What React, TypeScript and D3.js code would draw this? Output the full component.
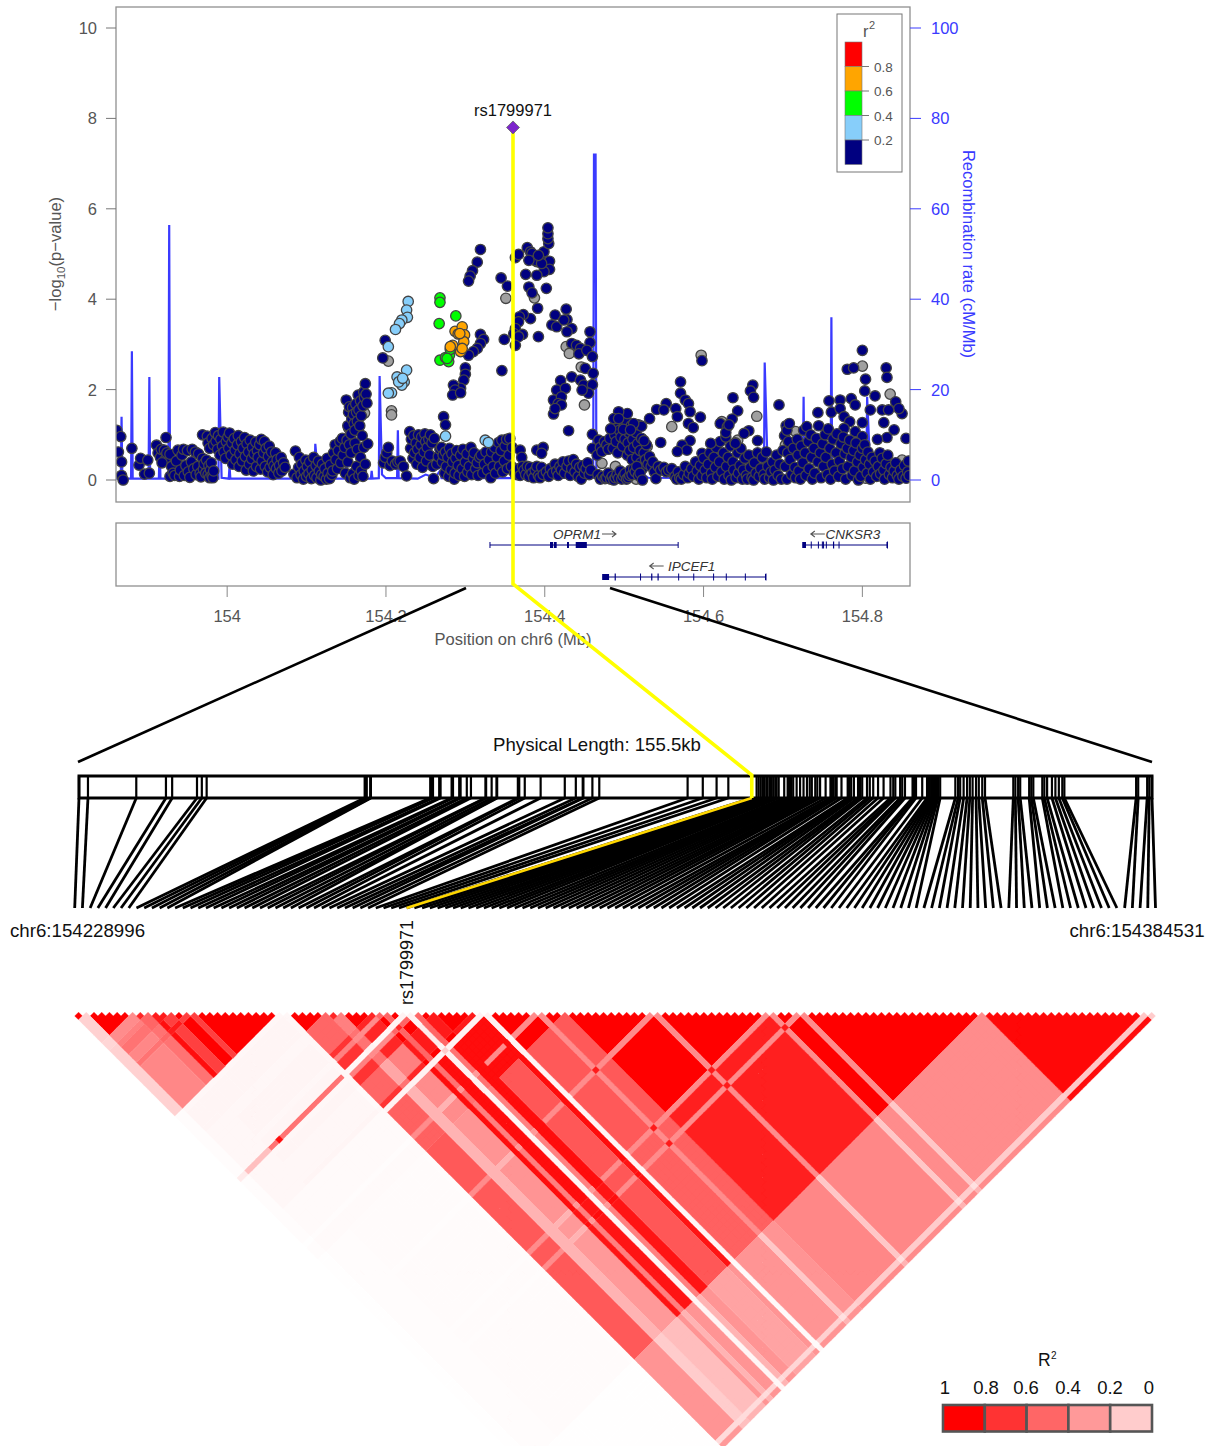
import React from "react";
import * as d3 from "d3";

// ---------- association data: [position in kb after 154 Mb, -log10(p)] ----------
const navyPoints: number[][] = [
[-139,1.1],[-134,.96],[-137,.62],[-133,.4],[-133,.1],[-131,0],[-120,.7],[-111,.33],[-109,.48],[-100,.44],[-104,.13],[-98,.15],
[-89,.77],[-87,.6],[-84,.5],[-83,.68],[-79,.66],[-78,.45],[-76,.6],[-72,.57],[-82,.38],[-77,.94],
[-72,.08],[-70,.3],[-68,.15],[-66,.1],[-64,.42],[-62,.66],[-60,.08],[-59,.22],[-57,.55],[-55,.68],[-54,.1],[-52,.32],[-50,.65],[-49,.18],[-47,.06],[-45,.4],[-44,.68],[-42,.25],[-40,.62],[-39,.12],[-37,.3],[-36,.58],[-34,.15],[-33,.07],[-31,.48],[-30,.24],[-29,.36],[-27,.15],[-26,.44],[-24,.12],[-23,.32],[-22,.05],[-21,.22],[-20,.38],[-19,.1],[-18,.05],[-17,.2],
[-31,1.0],[-25,.97],[-24,.82],[-22,.7],
[-19,.92],[-17,.78],[-15,1.05],[-14,.86],[-12,.68],[-11,.98],[-9,.55],[-8,.9],[-6,.75],[-5,1.06],[-4,.62],[-2,.48],[-1,.85],[1,.95],[2,.7],[3,1.04],[5,.55],[6,.82],[7,.35],[9,.92],[10,.66],[11,.45],[13,.78],[14,.98],[15,.3],[16,.58],[18,.85],[19,.42],[20,.7],[22,.94],[23,.52],[24,.22],[25,.8],[27,.62],[28,.35],[29,.88],[31,.47],[32,.72],[33,.2],[34,.58],[36,.84],[37,.3],[38,.65],[39,.5],[41,.78],[42,.24],[43,.9],[44,.42],[46,.6],[47,.85],[48,.3],[49,.7],[51,.18],[52,.52],[53,.75],[54,.28],[56,.62],[57,.4],[58,.12],[59,.32],
[61,.6],[62,.25],[63,.45],[65,.15],[66,.32],[68,.5],[69,.2],[71,.38],[73,.28],
[84,.13],[86,.64],[88,.05],[90,.28],[91,.5],[93,.12],[94,.35],[96,.02],[97,.2],[99,.44],[100,.08],[101,.3],[103,.14],[104,.4],[106,.03],[107,.22],[109,.5],[110,.1],[112,.32],[113,.05],[115,.42],[116,.2],[118,0],[119,.12],[120,.35],[122,.08],[123,.25],[125,.02],[126,.48],[127,.15],[129,.03],[130,.33],[132,.12],[133,.2],[134,.6],
[136,.78],[137,.45],[139,.25],[140,.65],[142,.85],[143,.38],[145,.92],[146,.55],[148,.72],[149,.15],[151,.88],[152,.4],[154,.78],[155,.05],[156,.6],[158,.14],[160,.02],[161,.82],[163,.3],[164,.68],[166,.1],[168,.5],[169,.2],[171,.08],[172,.72],[174,.35],[177,.8],
[150,1.77],[152,1.2],[153,1.5],[154,1.62],[156,1.02],[157,1.35],[158,1.6],[159,1.45],[160,1.25],[161,1.1],[162,1.68],[163,1.5],[164,1.3],[165,1.88],[166,1.55],[167,1.2],[168,1.75],[169,1.42],[170,.98],[171,1.64],[172,1.95],[173,1.82],[174,2.13],[175,1.9],[176,1.7],
[197,.38],[199,.5],[201,.6],[203,.72],[205,.32],[208,.42],[212,.35],[215,.4],[218,.42],[222,.3],[226,.09],
[230,1.07],[231,.7],[232,.9],[234,.48],[235,.98],[236,.6],[238,.82],[239,.35],[240,.68],[241,1.0],[243,.5],[244,.78],[245,.95],[246,.28],[248,.62],[249,1.02],[250,.85],[251,.42],[252,.72],[254,.9],[255,.55],[256,1.0],[258,.82],[259,.3],[260,.03],[261,.92],
[264,.35],[266,.52],[268,.68],[270,.72],[271,.4],[272,.55],[274,.15],[275,.62],[276,.3],[278,.5],[279,.08],[280,.7],[282,.22],[283,.58],[284,.4],[286,.02],[287,.15],[288,.48],[289,.65],[291,.32],[292,.1],[294,.55],[296,.25],[297,.68],[299,.08],[300,.4],[302,.58],[303,.18],[305,.3],[307,.72],[308,.12],[310,.48],[311,.6],[313,.25],[315,.38],[316,.1],[318,.5],[320,.55],[322,.15],[324,.35],[326,.62],[328,.22],[330,.45],[332,.05],[333,.62],[335,.3],[337,.72],[338,.15],[340,.5],[342,.83],[343,.3],[345,.65],[346,.88],[347,.18],[349,.42],[350,.75],[352,.9],[353,.25],[355,.55],[356,.92],[358,.3],[359,.72],
[319,5.1],[315,4.82],[309,4.63],[306,4.51],[304,4.4],[319,3.22],[323,3.11],[319,3.02],[315,2.91],[310,2.84],[304,2.76],[300,2.48],[300,2.34],[298,2.21],[294,2.03],[285,2.1],[287,1.99],[284,1.88],[294,1.93],[272.6,1.4],[275,1.22],[199,3.09],[196,2.7],
[346,2.42],[349,3.11],[345,4.47],[353,4.29],[363,4.92],[367,4.99],
[378,5.14],[382,5.05],[386,4.94],[390,4.83],[394,4.9],[399,5.05],[405,5.23],[404,5.34],[404,5.45],[404,5.58],[406,4.84],[406,4.66],[399,4.61],[390,4.53],[376,4.55],[384,5.01],[388,4.86],[380,4.86],[396,4.79],[392,4.97],
[380,4.27],[384,4.14],[402,4.24],[391,3.8],[382,3.57],[373,3.66],[368,3.61],[367,3.5],[363,3.35],[361,3.24],[372,3.22],[367,3.17],[363,2.98],[392,3.17],
[413,3.65],[427,3.78],[428,3.55],[409,3.43],[415,3.39],[424,3.54],[434,3.35],[428,3.28],[457,3.28],[457,3.04],
[434,3.02],[440,2.98],[445,2.91],[443,2.79],[453,2.87],[460,2.73],[451,2.47],[461,2.36],[434,2.28],[445,2.21],[449,2.1],[460,2.11],[455,1.92],[447,1.99],
[420,2.2],[415,1.99],[426,2.03],[411,1.77],[421,1.84],[417,1.69],[411,1.46],[421,1.66],[413,1.58],[430,1.09],[460,1.01],[460,.7],[468,.88],
[390,.66],[398,.72],[396,.59],[369,.66],[371,.5],
[362,.15],[365,.12],[367,.25],[369,.1],[372,.3],[374,.22],[376,.12],[378,.3],[380,.08],[382,.28],[384,.15],[386,.05],[388,.22],[390,.3],[392,.1],[394,.05],[396,.28],[398,.12],[402,.18],[405,.08],[407,.25],[410,.15],[413,.35],[415,.2],[417,.1],[419,.3],[421,.22],[423,.4],[425,.15],[428,.3],[430,.42],[432,.1],[434,.25],[436,.45],[438,.18],[440,.35],[442,.08],[444,.28],[446,.02],[448,.32],[450,.15],[452,.25],[454,.38],[456,.12],[458,.22],
[466,.55],[470,.72],[472,.63],[475,.85],[478,.78],[480,.68],[482,.92],[484,1.13],[486,.7],[488,1.0],[490,.85],[491,1.25],[492,.6],[494,1.1],[496,.95],[497,1.4],[498,.75],[500,1.18],[501,.9],[503,1.3],[504,.55],[505,.82],[506,1.05],[507,.65],[509,1.2],[510,.45],[511,.9],[512,.72],[513,1.15],[515,1.05],[516,.5],[517,.8],[518,1.22],[520,.65],[521,.38],[522,.92],[523,.25],[525,.6],[527,.45],[528,.78],[530,.35],[532,.52],[534,.3],[536,.4],[538,.18],
[467,.12],[470,.02],[473,.08],[476,.03],[478,.05],[480,.15],[483,.02],[485,.08],[487,0],[489,.05],[491,.12],[493,.04],[495,.2],[497,.02],[499,.09],[501,.14],[503,.02],[505,.05],[507,.1],[508,.22],[510,.12],[512,.25],[514,.18],[516,.3],[518,.1],[520,.15],[523,0],[540,.03],[543,.3],[546,.22],[550,.28],[553,.18],[556,.22],[560,.25],[564,.08],[566,.02],[568,.18],[570,.05],[572,.02],
[571,2.17],[598,2.64],[662,2.1],[659,1.97],[663,1.83],[637,1.82],[643,1.53],[695,1.66],[800,2.87],[781,2.45],[789,2.48],[830,2.48],[831,2.27],[804,2.23],[803,1.97],[816,1.86],
[758,1.75],[772,1.77],[786,1.8],[791,1.66],[744,1.49],[761,1.5],[772,1.58],[777,1.4],[784,1.29],[800,1.27],[791,1.07],[777,1.14],[800,.96],
[842,1.73],[850,1.47],[846,1.58],[810,1.55],[825,1.55],[833,1.55],[827,1.27],[840,1.11],[831,.94],[819,.9],[855,.92],
[571,1.92],[577,1.77],[581,1.69],[583,1.51],[596,1.39],[581,1.25],[587,1.16],[541,1.56],[553,1.69],[550,1.55],[565,1.58],[567,1.4],
[532,1.36],[522,1.19],[512,1.25],[504,1.47],[493,1.51],[487,1.36],[483,1.13],[493,1.36],[499,1.12],[508,1.11],
[525,.87],[546,.83],[583,.87],[573,.77],[579,.66],[567,.63],[598,.59],
[575,.12],[577,.3],[580,.05],[582,.15],[585,.25],[587,.08],[590,.4],[592,.2],[594,.02],[596,.32],[598,.1],[600,.48],[602,.22],[604,.05],[606,.35],[608,.6],[610,.15],[611,.02],[613,.5],[615,.28],[616,.72],[618,.08],[620,.4],[621,.85],[623,.18],[625,.6],[626,.02],[628,.95],[629,.3],[631,.5],[632,.1],[634,.75],[635,0],[637,.4],[638,.22],[640,.82],[641,.05],[643,.6],[644,.15],[646,.32],[647,.7],[649,.02],[650,.22],[652,.48],[654,.1],[655,.02],[657,.55],[659,.28],[661,.05],[663,0],[664,.38],[666,.15],[668,.6],[670,.08],[672,.25],[674,.5],[676,.12],[677,.02],[679,.62],[681,.3],[683,.05],[685,.18],[687,.4],[688,0],[690,.22],[692,.55],[694,.1],[696,.35],[698,.02],[700,.65],
[636,1.35],[621,1.25],[630,1.18],[657,1.09],[651,1.03],[668,.87],[640,.81],[609,.81],[628,1.05],[632,1.22],
[702,.98],[704,1.2],[705,1.1],[707,.85],[708,1.25],[706,.6],[703,.3],[705,.02],[709,.45],[711,.12],[713,.7],[715,.28],[716,.05],[718,.9],[719,.55],[720,.2],[722,.02],[723,.75],[725,.38],[726,1.1],[728,.6],[729,.1],[730,1.18],[732,.85],[733,.25],[735,1.0],[736,.5],[737,.02],[739,.7],[740,.15],[742,.92],[744,.4],[745,1.2],[747,.6],[748,.05],[750,.8],[751,.3],[753,1.0],[754,.5],[756,.12],[757,1.13],[759,.7],[760,.02],[762,.35],[763,.9],[765,.2],[767,.6],[768,1.02],[770,.08],[771,.42],[773,.8],[775,.25],[776,.95],[778,.58],[779,.02],[781,.7],[782,.3],[784,.88],[786,.5],[787,.1],[789,.65],[790,.2],[792,.82],[794,.4],[795,0],[797,.55],[798,.08],[800,.7],[801,.28],[803,.78],[804,.45],[806,.15],[807,.62],[809,.35],[810,.02],[812,.5],[814,.18],[816,.42],[818,.08],[820,.3],[822,.6],[823,.14],[825,.48],[827,.22],[828,.02],[830,.36],[832,.55],[834,.12],[836,.28],[838,.05],[840,.2],[842,.38],[844,.1],[846,.02],[848,.22],[851,.08],[853,.32],[855,.04],[857,.18],[858,.42],[859,.1],
];
const grayPoints: number[][] = [[58,.55],[173,1.48],[153,1.15],[155,.95],[203,2.63],[207,1.53],[207,1.44],[351,4.02],[387,4.03],[427,2.95],[431,2.8],[446,2.5],[450,1.66],[597,2.76],[667,1.41],[800,2.52],[560,1.18],[623,1.29],[643,.88],[472,.37],[489,.3],[515,.02],[529,.74],[652,.55],[703,.77],[716,1.07],[850,.44],[804,.04],[835,1.9]];
const lightBluePoints: number[][] = [[275,.97],[325,.88],[329,.83],[228,3.95],[226,3.76],[227,3.6],[220,3.54],[217,3.46],[212,3.33],[203,2.95],[226,2.43],[223,2.17],[220,2.1],[214,2.28],[216,2.17],[221,2.25],[207,1.93],[203,1.92]];
const greenPoints: number[][] = [[268,4.03],[268,3.93],[267,3.46],[288,3.63],[268,2.65],[275,2.71],[279,2.62],[280,2.76],[281,2.89],[277,2.69]];
const orangePoints: number[][] = [[287,3.29],[296,3.39],[291,3.23],[299,3.21],[298,3.06],[294,2.84],[284,2.98],[281,2.95],[293,3.24],[296,2.91]];
const leadSnp = { name: "rs1799971", kb: 360, logP: 7.8 };

// recombination rate: [position kb, cM/Mb]
const recombination: number[][] = [[-140,.3],[-134,.3],[-133,14],[-132,.3],[-121,.3],[-120,28.5],[-119,.3],[-99,.3],[-98,22.8],[-97,.3],[-86,.3],[-85,8],[-84,.3],[-74,.3],[-73,56.4],[-72,.3],[-11,.3],[-10,22.8],[-7,.5],[2,.3],[3,3],[4,.3],[110,.3],[111,8],[114,2],[116,.3],[149,.3],[150,6],[151,.3],[181,.3],[182,2],[183,.3],[191,.4],[192,23],[195,1.2],[200,.4],[214,.4],[215,11],[216,.4],[240,.3],[250,1.2],[262,.5],[268,2],[270,.4],[328,.4],[329,2],[330,.4],[461,.5],[462,72],[464,72],[465,.5],[480,.4],[510,.5],[522,1.5],[530,.5],[676,.3],[677,26],[681,.3],[705,.3],[706,13],[708,.5],[725,.3],[726,18.4],[727,.3],[760,.3],[761,36],[762,.3],[805,.3],[806,18.4],[810,2],[812,.3],[825,.3],[826,7],[827,.3],[860,.3]];

const yTicks = [0, 2, 4, 6, 8, 10];
const recTicks = [0, 20, 40, 60, 80, 100];
const mbTicks = [0, 200, 400, 600, 800];
const mbLabels = ["154", "154.2", "154.4", "154.6", "154.8"];
const r2LegendColors = ["#FF0000", "#FFA500", "#00FF00", "#87CEFA", "#000080"];
const r2LegendLabels = ["0.8", "0.6", "0.4", "0.2"];

// genes (kb)
const genes = [
  { name: "OPRM1", start: 331, end: 568, row: 0, dir: 1, labelKb: 440.6, exons: [[406.6, 410.5], [411.5, 415], [428, 430.5], [439, 453]] },
  { name: "CNKSR3", start: 725, end: 831, row: 0, dir: -1, labelKb: 788, exons: [[725, 729], [735, 735.6], [744, 744.6], [749, 749.6], [750.5, 751], [754, 754.6], [763, 764.5], [770, 770.6], [831, 831.6]] },
  { name: "IPCEF1", start: 473, end: 678, row: 1, dir: -1, labelKb: 585, exons: [[473, 481], [488, 489.5], [520, 520.7], [534, 535.5], [542, 543.5], [568, 568.7], [587, 587.7], [612, 612.7], [628, 628.7], [652, 652.7], [678, 678.6]] },
];

// SNP physical positions in kb after chr6:154228996
const snpKb = [0,1.3,8.3,12.6,13.5,17.1,17.8,18.5,41.4,41.6,41.7,42.2,42.3,50.9,51.1,51.3,52.2,52.4,54,54.2,55.1,55.3,56.2,56.8,58.9,59,59.8,60.5,60.6,63.6,63.8,64.6,66.9,70.4,72,73,73.1,74.4,75.4,88.2,90.4,92.4,94.1,
97.5,
98.2,98.5,98.8,99.1,99.3,99.6,99.8,100.1,100.3,100.6,100.9,101.1,101.4,102.2,102.7,102.9,103.2,103.5,104,104.5,105,105.5,105.9,106.2,106.7,107,107.4,108.2,108.9,109.1,109.3,109.6,109.8,110.5,111.4,111.6,111.9,112.3,112.9,113.2,113.5,114.2,114.6,115.1,115.8,116.6,117.6,118,118.3,119,119.3,119.7,120.8,121,121.3,122.2,122.9,123.1,123.3,123.5,123.7,123.9,124.1,124.3,124.5,124.8,127,127.4,127.7,128.2,128.7,129.1,129.5,130,130.4,130.9,131.3,135.4,135.7,136.1,136.4,137.7,138,138.3,139.6,139.9,140.3,141,141.5,142,142.5,142.8,153.2,153.5,154.8,155.1,155.5];
const leadSnpIndex = 43;

// LD classes of the SNPs along the triangle (run-length: class, count)
const snpClassRuns: [string, number][] = [["P",2],["a",6],["b",2],["c",1],["d",2],["e",2],["d",1],["e",11],["W",1],["f",5],["g",2],["h",4],["k",1],["i",1],["k",2],["R",1],["i",1],["k",2],["m",5],["k",1],["X",1],["n",6],["s",1],["n",3],["o",11],["s",1],["o",14],["s",1],["p",3],["s",1],["p",23],["q",21],["t",1],["u",1]];
const ldClassNames = ["P","a","b","c","d","e","W","f","g","h","i","k","R","m","X","n","o","p","s","q","t","u"];
// lower-triangular r2 between LD classes
const ldTable: number[][] = [
[1],
[.18,1],
[.16,.45,.85],
[.18,.5,.6,1],
[.18,.55,.6,.9,.9],
[.18,.47,.55,.95,.75,1],
[.01,.03,.03,.03,.03,.03,1],
[.01,.04,.04,.04,.04,.04,.03,1],
[.01,.03,.03,.03,.03,.03,.03,.6,.85],
[.01,.03,.04,.04,.04,.04,.03,.6,.5,1],
[.01,.03,.03,.03,.03,.03,.03,.5,.45,.45,.85],
[.01,.03,.04,.04,.04,.04,.03,.8,.55,.85,.6,1],
[.08,.25,.55,.95,.55,.55,.03,.03,.05,.03,.05,.05,1],
[.01,.03,.03,.03,.03,.03,.02,.6,.35,.5,.6,.9,.08,1],
[.01,.02,.02,.02,.02,.02,.02,.05,.05,.05,.05,.05,.2,.05,1],
[.01,.02,.02,.02,.02,.02,.02,.62,.3,.45,.55,.95,.06,.95,.05,1],
[.005,.01,.015,.015,.015,.015,.01,.65,.3,.42,.5,.95,.04,.66,.04,.65,1],
[.005,.01,.015,.015,.015,.015,.01,.65,.3,.4,.5,.92,.04,.66,.04,.62,.88,1],
[.005,.01,.01,.01,.01,.01,.01,.45,.3,.3,.4,.95,.03,.45,.03,.45,.45,.45,.9],
[.002,.005,.005,.005,.005,.005,.005,.42,.2,.26,.3,.42,.04,.36,.02,.42,.47,.45,.22,.97],
[.002,.005,.005,.005,.005,.005,.005,.14,.14,.14,.14,.16,.03,.16,.02,.18,.2,.2,.12,.22,1],
[.002,.005,.005,.005,.005,.005,.005,.4,.25,.3,.3,.42,.04,.36,.03,.42,.45,.45,.3,.95,.2,1],
];
const ldLegendValues = [1, 0.8, 0.6, 0.4, 0.2];
const ldLegendLabels = ["1", "0.8", "0.6", "0.4", "0.2", "0"];
const ldLegendLabelCentres = [945, 986, 1026, 1068, 1110, 1149];

const FONT = "'Liberation Sans', Arial, sans-serif";
const GREY_TEXT = "#555555";
const BLUE = "#3a3aff";

export default function App() {
  const x = d3.scaleLinear().domain([-140, 860]).range([116, 910]);
  const y = d3.scaleLinear().domain([0, 10]).range([480, 28]);
  const yRec = d3.scaleLinear().domain([0, 100]).range([480, 28]);
  const recLine = d3.line<number[]>().x((d) => x(d[0])).y((d) => yRec(d[1]));

  const physX = d3.scaleLinear().domain([0, 155.5]).range([79, 1152]);
  const snpX = d3.scaleLinear().domain([0, 140]).range([74.7, 1155.5]);
  const classes = snpClassRuns.flatMap(([c, n]) => Array.from({ length: n }, () => c));
  const classIndex = classes.map((c) => ldClassNames.indexOf(c));
  const color = d3.scaleLinear<string>().domain([0, 1]).range(["#ffffff", "#ff0000"]);
  const halfCell = (snpX(1) - snpX(0)) / 2;
  const triY = d3.scaleLinear().domain([1, 140]).range([1016, 1016 + 139 * halfCell]);

  const paths = new Map<string, string[]>();
  for (let i = 0; i < classIndex.length; i++) {
    for (let j = i + 1; j < classIndex.length; j++) {
      const a = Math.max(classIndex[i], classIndex[j]);
      const b = Math.min(classIndex[i], classIndex[j]);
      const c = color(ldTable[a][b]);
      const cx = (snpX(i) + snpX(j)) / 2;
      const cy = triY(j - i);
      if (cy - halfCell > 1446) continue;
      if (!paths.has(c)) paths.set(c, []);
      paths.get(c)!.push(`M${cx.toFixed(2)} ${(cy - halfCell).toFixed(2)}L${(cx + halfCell).toFixed(2)} ${cy.toFixed(2)}L${cx.toFixed(2)} ${(cy + halfCell).toFixed(2)}L${(cx - halfCell).toFixed(2)} ${cy.toFixed(2)}Z`);
    }
  }

  const dots = (pts: number[][], fill: string, key: string) =>
    pts.map((p, i) => (
      <circle key={key + i} cx={x(p[0])} cy={y(p[1])} r={5.2} fill={fill} stroke="#444444" strokeWidth={1.3} />
    ));

  const leadX = x(leadSnp.kb);
  const leadY = y(leadSnp.logP);
  const leadPhys = physX(snpKb[leadSnpIndex]);

  return (
    <svg width={1208} height={1446} viewBox="0 0 1208 1446" style={{ position: "absolute", left: 0, top: 0, display: "block", background: "#fff" }} fontFamily={FONT}>
      <defs>
        <clipPath id="plotClip"><rect x={116} y={7} width={794} height={495} /></clipPath>
      </defs>

      {/* association plot */}
      <g clipPath="url(#plotClip)">
        <path d={recLine(recombination)!} fill="none" stroke={BLUE} strokeWidth={2.2} />
        {dots(grayPoints, "#A0A0A0", "g")}
        {dots(navyPoints, "#000080", "n")}
        {dots(lightBluePoints, "#87CEFA", "b")}
        {dots(greenPoints, "#00FF00", "v")}
        {dots(orangePoints, "#FFA500", "o")}
      </g>
      <rect x={116} y={7} width={794} height={495} fill="none" stroke="#909090" strokeWidth={1.3} />

      {yTicks.map((t) => (
        <g key={"y" + t}>
          <line x1={106} x2={116} y1={y(t)} y2={y(t)} stroke="#777" strokeWidth={1} />
          <text x={97} y={y(t) + 6} textAnchor="end" fontSize={16.5} fill={GREY_TEXT}>{t}</text>
        </g>
      ))}
      {recTicks.map((t) => (
        <g key={"r" + t}>
          <line x1={910} x2={921} y1={yRec(t)} y2={yRec(t)} stroke={BLUE} strokeWidth={1} />
          <text x={931} y={yRec(t) + 6} fontSize={16.5} fill={BLUE}>{t}</text>
        </g>
      ))}
      <text transform="translate(61,254) rotate(-90)" textAnchor="middle" fontSize={16.6} fill={GREY_TEXT}>
        −log<tspan fontSize={11.5} dy={4}>10</tspan><tspan dy={-4}>(p−value)</tspan>
      </text>
      <text transform="translate(963,254) rotate(90)" textAnchor="middle" fontSize={16.5} fill={BLUE}>Recombination rate (cM/Mb)</text>

      {/* r2 legend */}
      <rect x={837} y={14} width={65} height={158} fill="#fff" stroke="#777" strokeWidth={1} />
      <text x={863} y={37} fontSize={16.5} fill={GREY_TEXT}>r</text>
      <text x={869} y={29} fontSize={11} fill={GREY_TEXT}>2</text>
      {r2LegendColors.map((c, i) => (
        <rect key={c} x={845} y={42 + i * 24.5} width={17} height={24.5} fill={c} stroke="#777" strokeWidth={0.6} />
      ))}
      {r2LegendLabels.map((l, i) => (
        <g key={l}>
          <line x1={862} x2={869} y1={66.5 + i * 24.5} y2={66.5 + i * 24.5} stroke="#777" />
          <text x={874} y={71.5 + i * 24.5} fontSize={13.5} fill={GREY_TEXT}>{l}</text>
        </g>
      ))}

      {/* gene panel */}
      <rect x={116} y={523} width={794} height={63} fill="none" stroke="#909090" strokeWidth={1.3} />
      {genes.map((g) => {
        const gy = g.row === 0 ? 545 : 577;
        const ly = g.row === 0 ? 539 : 571;
        const labelX = x(g.labelKb);
        const half = g.name.length > 5 ? 28 : 25;
        return (
          <g key={g.name}>
            <line x1={x(g.start)} x2={x(g.end)} y1={gy} y2={gy} stroke="#000080" strokeWidth={1} />
            <line x1={x(g.start)} x2={x(g.start)} y1={gy - 3} y2={gy + 3} stroke="#000080" strokeWidth={1} />
            <line x1={x(g.end)} x2={x(g.end)} y1={gy - 3} y2={gy + 3} stroke="#000080" strokeWidth={1} />
            {g.exons.map((e, i) => {
              const big = e[1] - e[0] > 1.5;
              return <rect key={i} x={x(e[0])} y={gy - (big ? 3 : 3.5)} width={Math.max(1, x(e[1]) - x(e[0]))} height={big ? 6 : 7} fill="#000080" />;
            })}
            <text x={labelX} y={ly} textAnchor="middle" fontSize={13.5} fontStyle="italic" fill="#333">{g.name}</text>
            {g.dir === 1 ? (
              <path d={`M${labelX + half} ${ly - 5}h14m-4 -3l4 3l-4 3`} fill="none" stroke="#555" strokeWidth={1.1} />
            ) : (
              <path d={`M${labelX - half} ${ly - 5}h-14m4 -3l-4 3l4 3`} fill="none" stroke="#555" strokeWidth={1.1} />
            )}
          </g>
        );
      })}
      {mbTicks.map((t, i) => (
        <g key={"m" + t}>
          <line x1={x(t)} x2={x(t)} y1={586} y2={597} stroke="#888" strokeWidth={1} />
          <text x={x(t)} y={622} textAnchor="middle" fontSize={16.5} fill={GREY_TEXT}>{mbLabels[i]}</text>
        </g>
      ))}
      <text x={513} y={645} textAnchor="middle" fontSize={16.5} fill={GREY_TEXT}>Position on chr6 (Mb)</text>

      {/* zoom lines */}
      <line x1={466} y1={588} x2={78} y2={762} stroke="#000" strokeWidth={2.6} />
      <line x1={610} y1={588} x2={1152} y2={762} stroke="#000" strokeWidth={2.6} />

      {/* SNP track */}
      <text x={597} y={751} textAnchor="middle" fontSize={18.6} fill="#111">Physical Length: 155.5kb</text>
      {snpKb.map((k, i) => (
        <g key={"s" + i}>
          <line x1={physX(k)} x2={physX(k)} y1={776} y2={798} stroke="#000" strokeWidth={2.2} />
          <line x1={physX(k)} y1={798} x2={snpX(i)} y2={908} stroke="#000" strokeWidth={2.8} />
        </g>
      ))}
      <rect x={79} y={776} width={1073} height={22} fill="none" stroke="#000" strokeWidth={3} />
      <line x1={leadPhys} y1={798} x2={snpX(leadSnpIndex)} y2={908} stroke="#FFD700" strokeWidth={2.6} />

      {/* lead SNP path */}
      <path d={`M${leadX} ${leadY}V584L${leadPhys} 775V798`} fill="none" stroke="#FFFF00" strokeWidth={3.6} />
      <path d={`M${leadX} ${leadY - 6.5}l6.5 6.5l-6.5 6.5l-6.5 -6.5Z`} fill="#7D26CD" stroke="#666" strokeWidth={0.8} />
      <text x={leadX} y={116} textAnchor="middle" fontSize={16.5} fill="#111">{leadSnp.name}</text>

      <text x={77.5} y={937} textAnchor="middle" fontSize={18.7} fill="#111">chr6:154228996</text>
      <text x={1137} y={937} textAnchor="middle" fontSize={18.7} fill="#111">chr6:154384531</text>
      <text transform={`translate(${snpX(leadSnpIndex) + 6},1005) rotate(-90)`} fontSize={18} fill="#111">{leadSnp.name}</text>

      {/* LD triangle */}
      {Array.from(paths.entries()).map(([c, d]) => (
        <path key={c} d={d.join("")} fill={c} stroke={c} strokeWidth={0.35} />
      ))}

      {/* R2 legend */}
      <text x={1038} y={1366} fontSize={17.5} fill="#111">R</text>
      <text x={1051} y={1359} fontSize={10} fill="#111">2</text>
      {ldLegendLabels.map((l, i) => (
        <text key={l} x={ldLegendLabelCentres[i]} y={1394} textAnchor="middle" fontSize={18.5} fill="#111">{l}</text>
      ))}
      {ldLegendValues.map((v, i) => (
        <rect key={v} x={943 + i * 41.8} y={1405} width={41.8} height={26.5} fill={color(v)} stroke="#555" strokeWidth={2.6} />
      ))}
    </svg>
  );
}
